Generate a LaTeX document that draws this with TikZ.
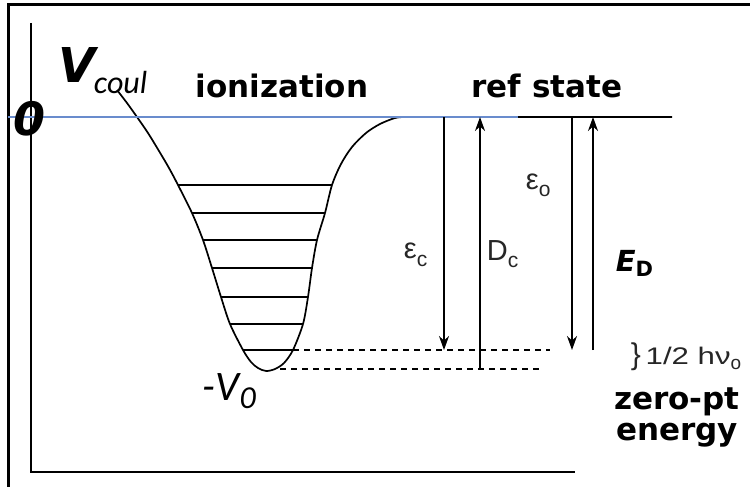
\documentclass[tikz,border=0pt]{standalone}
\usepackage{fontspec}
\usepackage{graphicx}
\usetikzlibrary{arrows.meta}
\newfontfamily\vfont{DejaVu Sans}
\newfontfamily\cfont{Carlito}
\newfontfamily\hfont{Liberation Sans}
\definecolor{zeroblue}{RGB}{105,140,205}
\tikzset{
  biglbl/.style={inner sep=0,font=\vfont\bfseries\fontsize{31}{31}\selectfont},
  thinlbl/.style={inner sep=0,text=black!85,font=\hfont\fontsize{29}{29}\selectfont},
  level/.style={line width=1.7pt},
  zpe/.style={line width=1.5pt,dash pattern=on 6pt off 5pt},
}
\begin{document}
\begin{tikzpicture}[x=1pt,y=-1pt,>={Stealth[length=14pt,width=10pt]},line width=1.7pt]
\useasboundingbox(0,0)rectangle(750,487);
\draw[line width=3pt](8,487)--(8,5)--(750,5);
\draw[line width=2.2pt](31,23)--(31,472)--(575,472);
\draw[level]plot[smooth]coordinates{(117,90)(127,103)(137,117)(148,133)(159,151)(169,168)(178,185)(192,213)(203,240)(212,268)(221,297)(230,324)(243,350)(251,362)(258,368)(266,371)(275,369)(284,363)(293,350)(303,324)(308,297)(312,268)(317,240)(325,213)(332,185)(341,164)(352,147)(366,133)(380,124)(395,118)(405,117)}--(672,117);
\foreach \y/\l/\r in {185/178/332,213/192/325,240/203/317,268/212/312,297/221/308,324/230/303,350/243/293}
  \draw[level](\l,\y)--(\r,\y);
\draw[zpe](293,350)--(550,350);
\draw[zpe](280,369)--(542,369);
\draw[line width=1.4pt,zeroblue](8,117)--(518,117);
\coordinate(ecT)at(444,117);\coordinate(ecB)at(444,350);
\coordinate(dcB)at(480,369);\coordinate(dcT)at(480,117);
\coordinate(eoT)at(572,117);\coordinate(eoB)at(572,350);
\coordinate(edB)at(593,350);\coordinate(edT)at(593,117);
\draw[->](ecT)--(ecB);
\draw[->](dcB)--(dcT);
\draw[->](eoT)--(eoB);
\draw[->](edB)--(edT);
\node[anchor=base west,inner sep=0](vc)at(58,82){{\vfont\bfseries\itshape\fontsize{48}{48}\selectfont V}\kern-2pt\raisebox{-11pt}{\cfont\itshape\fontsize{32}{32}\selectfont coul}};
\node[anchor=base west,inner sep=0](zero)at(13,135){\vfont\bfseries\itshape\fontsize{46}{46}\selectfont 0};
\node[biglbl,anchor=base](ion)at(282,98){ionization};
\node[biglbl,anchor=base](ref)at(547,98){ref state};
\node[biglbl,anchor=north,align=center](zpt)at(677,387){zero-pt\\energy};
\node[anchor=base west,inner sep=0](V0)at(202,400){\cfont\itshape\fontsize{42}{42}\selectfont -V\raisebox{-8pt}{\fontsize{32}{32}\selectfont 0}};
\node[anchor=base west,inner sep=0](ED)at(615,271){{\vfont\bfseries\itshape\fontsize{29}{29}\selectfont E}\raisebox{-5pt}{\vfont\bfseries\fontsize{21}{21}\selectfont D}};
\node[thinlbl,anchor=base west](ec)at(403,258){ε\raisebox{-8pt}{\fontsize{21}{21}\selectfont c}};
\node[thinlbl,anchor=base west](Dc)at(486,260){D\raisebox{-7pt}{\fontsize{21}{21}\selectfont c}};
\node[thinlbl,anchor=base west](eo)at(525,189){ε\raisebox{-7pt}{\fontsize{21}{21}\selectfont o}};
\node[thinlbl,anchor=base west](half)at(630,364){{\fontsize{30}{30}\selectfont\}}\,\scalebox{1.3}[1]{\fontsize{24}{24}\selectfont 1/2 hν}\raisebox{-5pt}{\fontsize{19}{19}\selectfont o}};
\end{tikzpicture}
\end{document}
